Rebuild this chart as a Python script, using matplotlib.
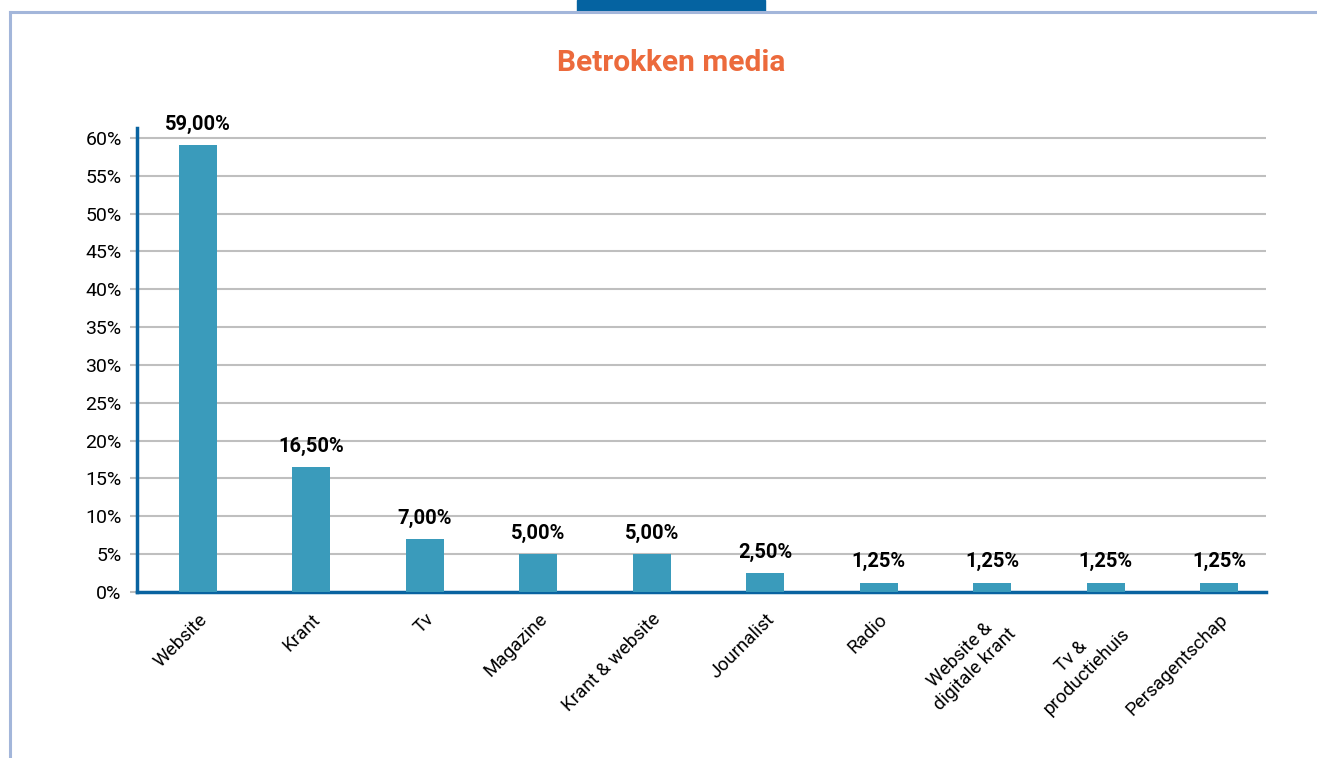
import matplotlib
matplotlib.use("Agg")
import matplotlib.pyplot as plt
from matplotlib.lines import Line2D
from matplotlib.patches import Rectangle
import numpy as np

plt.rcParams['font.family'] = ['Roboto', 'DejaVu Sans']

categories = ["Website", "Krant", "Tv", "Magazine", "Krant & website", "Journalist",
              "Radio", "Website &\ndigitale krant", "Tv &\nproductiehuis", "Persagentschap"]
values = [59.00, 16.50, 7.00, 5.00, 5.00, 2.50, 1.25, 1.25, 1.25, 1.25]
yticks = np.arange(0, 61, 5)

bar_color = "#3a9bbb"
spine_color = "#0963a0"
grid_color = "#bfbfbf"

fig = plt.figure(figsize=(13.17, 7.58), dpi=100)
W, H = 1317, 758

# frame around the chart
fig.add_artist(Line2D([10 / W, 1.0], [1 - 12 / H, 1 - 12 / H], color="#a3b6da", linewidth=2.2))
fig.add_artist(Line2D([10 / W, 10 / W], [0, 1 - 12 / H], color="#a3b6da", linewidth=2.2))
fig.add_artist(Rectangle((577 / W, 1 - 12 / H), 188 / W, 12 / H, color="#0563a1",
                         transform=fig.transFigure))

ax = fig.add_axes([137 / W, (H - 592) / H, 1129 / W, (592 - 128) / H])
x = np.arange(len(categories))
ax.bar(x, values, width=0.335, color=bar_color, zorder=3)
ax.set_xlim(-0.538, 9.414)
ax.set_ylim(0, 61.3)

ax.set_yticks(yticks)
ax.set_yticklabels([f"{t}%" for t in yticks], fontsize=14)
ax.yaxis.grid(True, color=grid_color, linewidth=1.5, zorder=0)
ax.tick_params(axis="y", length=5, color=grid_color, width=1.5, pad=6)

ax.set_xticks(x)
ax.set_xticklabels(categories, rotation=45, ha="right", rotation_mode="anchor",
                   fontsize=13.5, multialignment="center")
ax.tick_params(axis="x", length=0, pad=13)

for s in ["top", "right"]:
    ax.spines[s].set_visible(False)
for s in ["left", "bottom"]:
    ax.spines[s].set_color(spine_color)
    ax.spines[s].set_linewidth(2.5)

for xi, v in zip(x, values):
    ax.annotate(f"{v:.2f}%".replace(".", ","), (xi, v), xytext=(0, 8),
                textcoords="offset points", ha="center", va="bottom",
                fontsize=14.5, fontweight="bold")

fig.text(671 / W, 1 - 63 / H, "Betrokken media", ha="center", va="center",
         fontsize=21.5, fontweight="bold", color="#ec6a3c")

fig.savefig("out.png", dpi=100)
